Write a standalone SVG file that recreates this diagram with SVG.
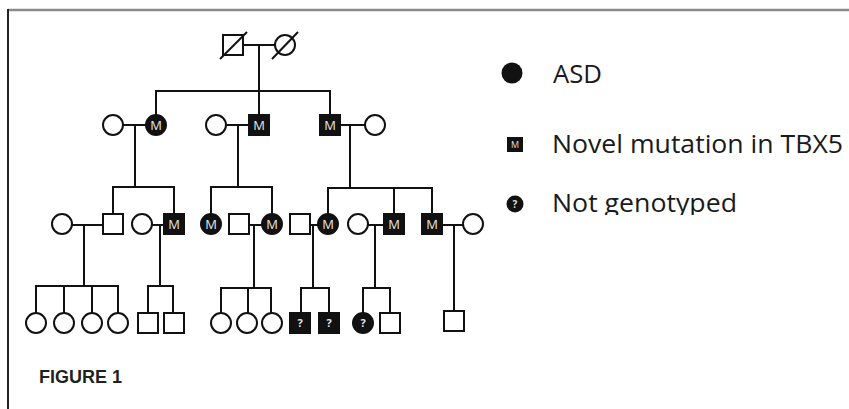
<svg xmlns="http://www.w3.org/2000/svg" width="849" height="409" viewBox="0 0 849 409">
<style>
.ln{stroke:#111;stroke-width:2;fill:none}
.o{fill:#fff;stroke:#111;stroke-width:2}
.f{fill:#111;stroke:#111;stroke-width:2}
.m{font-family:"Open Sans","Liberation Sans",sans-serif;font-size:13px;fill:#e6e6e6;text-anchor:middle}
.q{font-family:"Open Sans","Liberation Sans",sans-serif;font-size:11px;font-weight:bold;fill:#e6e6e6;text-anchor:middle}
.lg{font-family:"Open Sans","Liberation Sans",sans-serif;font-size:25px;fill:#1a1a1a}
</style>
<defs>
<clipPath id="clipNG"><rect x="540" y="180" width="220" height="35"/></clipPath>
</defs>
<rect x="0" y="0" width="849" height="409" fill="#fff"/>
<line x1="8" y1="10" x2="849" y2="10" stroke="#8a8a8a" stroke-width="2.5"/>
<line x1="8" y1="9" x2="8" y2="409" stroke="#222" stroke-width="2"/>

<g id="connectors">
<!-- Gen I -->
<line class="ln" x1="243" y1="45" x2="275" y2="45"/>
<line class="ln" x1="259" y1="45" x2="259" y2="91"/>
<line class="ln" x1="155" y1="91" x2="331" y2="91"/>
<line class="ln" x1="156" y1="91" x2="156" y2="115"/>
<line class="ln" x1="259" y1="91" x2="259" y2="115"/>
<line class="ln" x1="330" y1="91" x2="330" y2="115"/>
<!-- Gen II marriages -->
<line class="ln" x1="123" y1="125" x2="146" y2="125"/>
<line class="ln" x1="135" y1="125" x2="135" y2="187"/>
<line class="ln" x1="226" y1="125" x2="249" y2="125"/>
<line class="ln" x1="238" y1="125" x2="238" y2="187"/>
<line class="ln" x1="340" y1="125" x2="365" y2="125"/>
<line class="ln" x1="350" y1="125" x2="350" y2="188"/>
<!-- Gen III sibships -->
<line class="ln" x1="112" y1="187" x2="175" y2="187"/>
<line class="ln" x1="113" y1="187" x2="113" y2="214"/>
<line class="ln" x1="174" y1="187" x2="174" y2="214"/>
<line class="ln" x1="210" y1="187" x2="273" y2="187"/>
<line class="ln" x1="211" y1="187" x2="211" y2="214"/>
<line class="ln" x1="272" y1="187" x2="272" y2="214"/>
<line class="ln" x1="327" y1="188" x2="433" y2="188"/>
<line class="ln" x1="328" y1="188" x2="328" y2="214"/>
<line class="ln" x1="394" y1="188" x2="394" y2="214"/>
<line class="ln" x1="432" y1="188" x2="432" y2="214"/>
<!-- Gen III marriages -->
<line class="ln" x1="72" y1="225" x2="103" y2="225"/>
<line class="ln" x1="84" y1="225" x2="84" y2="286"/>
<line class="ln" x1="152" y1="225" x2="164" y2="225"/>
<line class="ln" x1="160" y1="225" x2="160" y2="286"/>
<line class="ln" x1="249" y1="225" x2="262" y2="225"/>
<line class="ln" x1="254" y1="225" x2="254" y2="288"/>
<line class="ln" x1="310" y1="225" x2="318" y2="225"/>
<line class="ln" x1="313" y1="225" x2="313" y2="288"/>
<line class="ln" x1="368" y1="225" x2="384" y2="225"/>
<line class="ln" x1="375" y1="225" x2="375" y2="288"/>
<line class="ln" x1="442" y1="225" x2="463" y2="225"/>
<line class="ln" x1="454" y1="225" x2="454" y2="311"/>
<!-- Gen IV sibships -->
<line class="ln" x1="35" y1="286" x2="119" y2="286"/>
<line class="ln" x1="36" y1="286" x2="36" y2="313"/>
<line class="ln" x1="64" y1="286" x2="64" y2="313"/>
<line class="ln" x1="92" y1="286" x2="92" y2="313"/>
<line class="ln" x1="118" y1="286" x2="118" y2="313"/>
<line class="ln" x1="147" y1="286" x2="174" y2="286"/>
<line class="ln" x1="148" y1="286" x2="148" y2="313"/>
<line class="ln" x1="173" y1="286" x2="173" y2="313"/>
<line class="ln" x1="220" y1="288" x2="272" y2="288"/>
<line class="ln" x1="221" y1="288" x2="221" y2="313"/>
<line class="ln" x1="248" y1="288" x2="248" y2="313"/>
<line class="ln" x1="271" y1="288" x2="271" y2="313"/>
<line class="ln" x1="300" y1="288" x2="330" y2="288"/>
<line class="ln" x1="301" y1="288" x2="301" y2="313"/>
<line class="ln" x1="329" y1="288" x2="329" y2="313"/>
<line class="ln" x1="362" y1="288" x2="391" y2="288"/>
<line class="ln" x1="363" y1="288" x2="363" y2="313"/>
<line class="ln" x1="390" y1="288" x2="390" y2="313"/>
</g>

<!-- Generation I -->
<g id="I-1"><rect class="o" x="223" y="35" width="20" height="20"/><line class="ln" x1="220" y1="59" x2="247" y2="32"/></g>
<g id="I-2"><circle class="o" cx="285" cy="45" r="10"/><line class="ln" x1="272" y1="59" x2="298" y2="32"/></g>

<!-- Generation II -->
<g id="II-1"><circle class="o" cx="113" cy="125" r="10"/></g>
<g id="II-2"><circle class="f" cx="156" cy="125" r="10"/><text class="m" x="156" y="130">M</text></g>
<g id="II-3"><circle class="o" cx="216" cy="125" r="10"/></g>
<g id="II-4"><rect class="f" x="249" y="115" width="20" height="20"/><text class="m" x="259" y="130">M</text></g>
<g id="II-5"><rect class="f" x="320" y="115" width="20" height="20"/><text class="m" x="330" y="130">M</text></g>
<g id="II-6"><circle class="o" cx="375" cy="125" r="10"/></g>

<!-- Generation III -->
<g id="III-1"><circle class="o" cx="62" cy="224" r="10"/></g>
<g id="III-2"><rect class="o" x="103" y="214" width="20" height="20"/></g>
<g id="III-3"><circle class="o" cx="142" cy="224" r="10"/></g>
<g id="III-4"><rect class="f" x="164" y="214" width="20" height="20"/><text class="m" x="174" y="229">M</text></g>
<g id="III-5"><circle class="f" cx="211" cy="224" r="10"/><text class="m" x="211" y="229">M</text></g>
<g id="III-6"><rect class="o" x="229" y="214" width="20" height="20"/></g>
<g id="III-7"><circle class="f" cx="272" cy="224" r="10"/><text class="m" x="272" y="229">M</text></g>
<g id="III-8"><rect class="o" x="290" y="214" width="20" height="20"/></g>
<g id="III-9"><circle class="f" cx="328" cy="224" r="10"/><text class="m" x="328" y="229">M</text></g>
<g id="III-10"><circle class="o" cx="358" cy="224" r="10"/></g>
<g id="III-11"><rect class="f" x="384" y="214" width="20" height="20"/><text class="m" x="394" y="229">M</text></g>
<g id="III-12"><rect class="f" x="422" y="214" width="20" height="20"/><text class="m" x="432" y="229">M</text></g>
<g id="III-13"><circle class="o" cx="473" cy="224" r="10"/></g>

<!-- Generation IV -->
<g id="IV-1"><circle class="o" cx="36" cy="323" r="10"/></g>
<g id="IV-2"><circle class="o" cx="64" cy="323" r="10"/></g>
<g id="IV-3"><circle class="o" cx="92" cy="323" r="10"/></g>
<g id="IV-4"><circle class="o" cx="118" cy="323" r="10"/></g>
<g id="IV-5"><rect class="o" x="138" y="313" width="20" height="20"/></g>
<g id="IV-6"><rect class="o" x="164" y="313" width="20" height="20"/></g>
<g id="IV-7"><circle class="o" cx="221" cy="323" r="10"/></g>
<g id="IV-8"><circle class="o" cx="247" cy="323" r="10"/></g>
<g id="IV-9"><circle class="o" cx="272" cy="323" r="10"/></g>
<g id="IV-10"><rect class="f" x="290" y="313" width="20" height="20"/><text class="q" x="300" y="327">?</text></g>
<g id="IV-11"><rect class="f" x="319" y="313" width="20" height="20"/><text class="q" x="329" y="327">?</text></g>
<g id="IV-12"><circle class="f" cx="363" cy="323" r="10"/><text class="q" x="363" y="327">?</text></g>
<g id="IV-13"><rect class="o" x="380" y="313" width="20" height="20"/></g>
<g id="IV-14"><rect class="o" x="444" y="311" width="20" height="20"/></g>

<!-- Legend -->
<g id="legend-asd"><circle cx="512" cy="73" r="10.5" fill="#111"/><text class="lg" x="553" y="83" textLength="49" lengthAdjust="spacingAndGlyphs">ASD</text></g>
<g id="legend-mut"><rect x="507" y="137" width="16" height="15" fill="#111"/><text x="515" y="148" font-family="Open Sans, Liberation Sans, sans-serif" font-size="9" fill="#ddd" text-anchor="middle">M</text><text class="lg" x="552" y="153" textLength="291" lengthAdjust="spacingAndGlyphs">Novel mutation in TBX5</text></g>
<g id="legend-ng"><circle cx="515" cy="204" r="8.5" fill="#111"/><text x="515" y="208" font-family="Open Sans, Liberation Sans, sans-serif" font-size="10" font-weight="bold" fill="#ddd" text-anchor="middle">?</text><text class="lg" x="552" y="212" textLength="185" lengthAdjust="spacingAndGlyphs" clip-path="url(#clipNG)">Not genotyped</text></g>

<text x="39" y="383" font-family="Liberation Sans, Arial, sans-serif" font-size="18" font-weight="bold" fill="#231f20" textLength="83" lengthAdjust="spacingAndGlyphs">FIGURE 1</text>
</svg>
